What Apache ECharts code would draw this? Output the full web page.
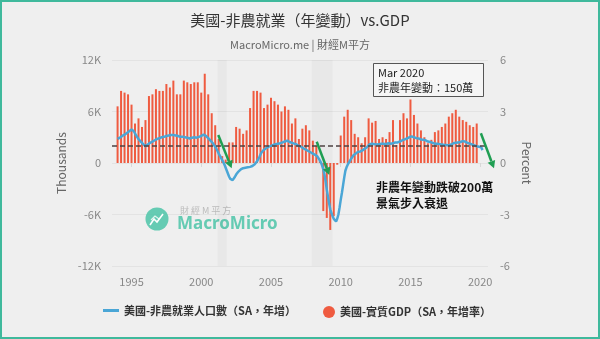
<!DOCTYPE html>
<html>
<head>
<meta charset="utf-8">
<script src="https://cdn.jsdelivr.net/npm/echarts@6/dist/echarts.min.js"></script>
<style>
  html, body { margin: 0; padding: 0; background: #efefef; }
  #chart { width: 600px; height: 339px; }
</style>
</head>
<body>
<div id="chart"></div>
<script>
// ---- text ----
const titleText = '美國-非農就業（年變動）vs.GDP';
const subtitleText = 'MacroMicro.me | 財經M平方';
const lineName = '美國-非農就業人口數（SA，年增）';
const barName = '美國-實質GDP（SA，年增率）';
const leftAxisName = 'Thousands';
const rightAxisName = 'Percent';
const noteTitle = 'Mar 2020';
const noteBody = '非農年變動：150萬';
const calloutLines = ['非農年變動跌破200萬', '景氣步入衰退'];

// ---- data ----
// Nonfarm payrolls, year-over-year change (thousands), monthly from Jan 1994
const payrollStartYear = 1994;
const payrollYoY = [
  2800, 2850, 2950, 3050, 3150, 3250, 3300, 3400, 3500, 3600, 3700, 3800,       // 1994
  3900, 3850, 3700, 3450, 3200, 3000, 2800, 2650, 2500, 2350, 2200, 2050,       // 1995
  1950, 2050, 2150, 2250, 2350, 2450, 2500, 2550, 2650, 2700, 2800, 2850,       // 1996
  2900, 2950, 3000, 3000, 3050, 3100, 3150, 3200, 3200, 3250, 3250, 3300,       // 1997
  3250, 3250, 3200, 3150, 3150, 3100, 3050, 3100, 3050, 3000, 3000, 2950,       // 1998
  2950, 2900, 2850, 2900, 2950, 3000, 3000, 2950, 2950, 3000, 3050, 3100,       // 1999
  3150, 3250, 3300, 3250, 3150, 3050, 2900, 2750, 2600, 2450, 2300, 2150,       // 2000
  1900, 1650, 1400, 1100, 850, 600, 350, 100, -200, -550, -900, -1250,          // 2001
  -1600, -1850, -2050, -2000, -1850, -1600, -1350, -1150, -1000, -850, -750, -650, // 2002
  -600, -550, -550, -500, -500, -450, -450, -400, -350, -300, -150, 0,          // 2003
  200, 400, 700, 1000, 1250, 1450, 1550, 1650, 1750, 1850, 1900, 1950,          // 2004
  2000, 2050, 2100, 2150, 2200, 2250, 2250, 2300, 2300, 2350, 2400, 2450,       // 2005
  2500, 2550, 2600, 2550, 2450, 2400, 2350, 2300, 2250, 2200, 2150, 2100,       // 2006
  2000, 1950, 1900, 1800, 1700, 1650, 1550, 1450, 1400, 1350, 1250, 1200,       // 2007
  1100, 1000, 950, 900, 750, 550, 300, 50, -300, -750, -1350, -2100,            // 2008
  -3100, -3900, -4700, -5400, -5800, -6200, -6500, -6700, -6800, -6500, -6000, -5200, // 2009
  -4300, -3500, -2600, -1700, -900, -500, -200, 50, 250, 500, 700, 900,         // 2010
  1000, 1100, 1200, 1300, 1300, 1350, 1450, 1500, 1650, 1700, 1800, 1900,       // 2011
  2100, 2200, 2250, 2250, 2250, 2200, 2150, 2150, 2150, 2200, 2200, 2250,       // 2012
  2250, 2250, 2200, 2200, 2250, 2300, 2300, 2250, 2300, 2300, 2350, 2400,       // 2013
  2350, 2400, 2450, 2500, 2600, 2650, 2700, 2750, 2800, 2850, 2950, 3000,       // 2014
  3050, 3100, 3050, 3000, 3000, 2900, 2900, 2850, 2800, 2750, 2750, 2700,       // 2015
  2700, 2650, 2600, 2500, 2400, 2450, 2400, 2350, 2300, 2250, 2250, 2250,       // 2016
  2250, 2200, 2150, 2150, 2100, 2100, 2150, 2100, 2000, 2050, 2100, 2150,       // 2017
  2200, 2300, 2350, 2350, 2400, 2400, 2400, 2450, 2500, 2550, 2500, 2500,       // 2018
  2450, 2350, 2300, 2250, 2200, 2150, 2100, 2050, 2000, 1950, 1950, 1900,       // 2019
  1850, 1800, 1500                                                              // 2020
];

// Real GDP, year-over-year growth (%), quarterly from 1994 Q1
const gdpStartYear = 1994;
const gdpYoY = [
  3.3, 4.2, 4.1, 4.0,    // 1994
  3.4, 2.3, 2.6, 2.1,    // 1995
  2.5, 3.9, 4.0, 4.3,    // 1996
  4.2, 4.2, 4.6, 4.4,    // 1997
  4.8, 4.0, 4.0, 4.8,    // 1998
  4.7, 4.6, 4.7, 4.7,    // 1999
  4.1, 5.2, 4.0, 2.9,    // 2000
  2.2, 1.4, 0.4, 0.2,    // 2001
  1.2, 1.2, 2.1, 2.0,    // 2002
  1.7, 1.9, 3.2, 4.2,    // 2003
  4.2, 4.1, 3.2, 3.4,    // 2004
  3.8, 3.6, 3.4, 3.0,    // 2005
  3.3, 3.1, 2.3, 2.6,    // 2006
  1.4, 2.0, 2.2, 1.9,    // 2007
  1.3, 1.0, 0.1, -2.8,   // 2008
  -3.2, -3.9, -3.1, -0.1, // 2009
  1.6, 2.7, 3.1, 2.5,    // 2010
  1.7, 1.5, 1.15, 1.5,   // 2011
  2.6, 2.35, 2.45, 1.4,  // 2012
  1.5, 1.4, 1.8, 2.5,    // 2013
  1.05, 2.5, 2.9, 2.6,   // 2014
  3.7, 2.8, 2.3, 1.9,    // 2015
  1.5, 1.15, 1.35, 1.8,  // 2016
  1.9, 2.1, 2.3, 2.7,    // 2017
  2.9, 3.1, 2.7, 2.5,    // 2018
  2.4, 2.2, 2.1, 2.3     // 2019
];

// US recessions (decimal years): Mar-Nov 2001, Dec 2007-Jun 2009
const recessions = [[2001.17, 2001.83], [2007.92, 2009.42]];
// Payroll threshold (thousands) shown as a dashed reference line
const payrollThreshold = 2000;
const yearTicks = [1995, 2000, 2005, 2010, 2015, 2020];
// Arrow annotations: [from, to] in [year, thousands]
const arrows = [
  [[2001.22, 3260], [2002.18, -620]],
  [[2008.28, 2480], [2009.18, -1400]],
  [[2020.05, 3460], [2020.99, -620]]
];

// ---- build series data ----
const payrollData = payrollYoY.map((v, i) => [payrollStartYear + i / 12, v]);
const gdpData = gdpYoY.map((v, i) => [gdpStartYear + i / 4, v]);

const FONT = "'Noto Sans CJK TC', 'Noto Sans', sans-serif";
const LINE_COLOR = '#4aa6d6';
const BAR_COLOR = '#ef5b40';
const ARROW_COLOR = '#1f9e52';
const TEAL = '#4cc4a8';

const chart = echarts.init(document.getElementById('chart'), null, { renderer: 'canvas' });

const option = {
  backgroundColor: '#efefef',
  animation: false,
  textStyle: { fontFamily: FONT },
  title: [
    { text: titleText, left: 'center', top: 8,
      textStyle: { fontFamily: FONT, fontSize: 15, fontWeight: 'normal', color: '#333' } },
    { text: subtitleText, left: 'center', top: 34,
      textStyle: { fontFamily: FONT, fontSize: 11, fontWeight: 'normal', color: '#666' } }
  ],
  legend: [
    { data: [{ name: lineName, icon: 'rect' }], left: 103, top: 305, padding: 0,
      itemWidth: 16, itemHeight: 3,
      textStyle: { fontFamily: FONT, fontSize: 11, fontWeight: 'bold', color: '#333' } },
    { data: [{ name: barName, icon: 'circle' }], left: 323, top: 306, padding: 0,
      itemWidth: 12, itemHeight: 12,
      textStyle: { fontFamily: FONT, fontSize: 11, fontWeight: 'bold', color: '#333' } }
  ],
  grid: { left: 112, right: 112, top: 60, bottom: 73, containLabel: false },
  xAxis: {
    type: 'value',
    min: 1993.6,
    max: 2020.56,
    axisLine: { show: false },
    axisTick: { show: true, customValues: yearTicks, length: 4, lineStyle: { color: '#d8d8d8' } },
    axisLabel: { customValues: yearTicks, color: '#888', fontSize: 11, margin: 10,
      fontFamily: FONT, formatter: v => String(Math.round(v)) },
    splitLine: { show: false }
  },
  yAxis: [
    {
      type: 'value', min: -12000, max: 12000, interval: 6000,
      name: leftAxisName, nameLocation: 'middle', nameGap: 43, nameRotate: 90,
      nameTextStyle: { color: '#666', fontSize: 12, fontFamily: FONT },
      axisLine: { show: false }, axisTick: { show: false },
      axisLabel: { color: '#888', fontSize: 11, margin: 11, fontFamily: FONT,
        formatter: v => v === 0 ? '0' : (v / 1000) + 'K' },
      splitLine: { lineStyle: { color: '#e3e3e3', width: 1 } }
    },
    {
      type: 'value', min: -6, max: 6, interval: 3, position: 'right',
      name: rightAxisName, nameLocation: 'middle', nameGap: 30, nameRotate: -90,
      nameTextStyle: { color: '#666', fontSize: 12, fontFamily: FONT },
      axisLine: { show: false }, axisTick: { show: false },
      axisLabel: { color: '#888', fontSize: 11, margin: 12, fontFamily: FONT },
      splitLine: { show: false }
    }
  ],
  series: [
    {
      name: barName,
      type: 'bar',
      yAxisIndex: 1,
      data: gdpData,
      barWidth: 2,
      itemStyle: { color: BAR_COLOR },
      z: 2,
      markArea: {
        silent: true,
        itemStyle: { color: 'rgba(0,0,0,0.028)' },
        data: recessions.map(r => [{ xAxis: r[0] }, { xAxis: r[1] }])
      }
    },
    {
      name: lineName,
      type: 'line',
      yAxisIndex: 0,
      data: payrollData,
      showSymbol: false,
      lineStyle: { color: LINE_COLOR, width: 2.5 },
      itemStyle: { color: LINE_COLOR },
      z: 4,
      markLine: {
        silent: true,
        symbol: 'none',
        label: { show: false },
        lineStyle: { color: '#4d4141', type: [5, 3], width: 1.5 },
        data: [{ yAxis: payrollThreshold }]
      }
    }
  ]
};

chart.setOption(option);

// ---- annotations drawn on top ----
function arrowShapes(p0, p1) {
  const dx = p1[0] - p0[0], dy = p1[1] - p0[1];
  const len = Math.hypot(dx, dy);
  const ux = dx / len, uy = dy / len;
  const head = 7.5, half = 4;
  const bx = p1[0] - ux * head, by = p1[1] - uy * head;
  return [
    { type: 'line', z: 100, silent: true,
      shape: { x1: p0[0], y1: p0[1], x2: bx, y2: by },
      style: { stroke: ARROW_COLOR, lineWidth: 2.5 } },
    { type: 'polygon', z: 100, silent: true,
      shape: { points: [[p1[0], p1[1]], [bx - uy * half, by + ux * half], [bx + uy * half, by - ux * half]] },
      style: { fill: ARROW_COLOR } }
  ];
}

const graphics = [];
// frame
graphics.push({ type: 'rect', z: 200, silent: true,
  shape: { x: 1, y: 1, width: 598, height: 337 },
  style: { fill: 'none', stroke: '#3fb99c', lineWidth: 2 } });

// watermark
graphics.push({ type: 'circle', z: 0, silent: true,
  shape: { cx: 157, cy: 219, r: 11.5 }, style: { fill: TEAL, opacity: 0.85 } });
graphics.push({ type: 'polyline', z: 0, silent: true,
  shape: { points: [[150, 225], [154, 219], [157, 222], [163, 214]] },
  style: { stroke: '#ffffff', lineWidth: 1.6, fill: 'none' } });
graphics.push({ type: 'polyline', z: 0, silent: true,
  shape: { points: [[151, 220], [155, 216], [159, 219]] },
  style: { stroke: '#ffffff', lineWidth: 1.2, fill: 'none', opacity: 0.8 } });
graphics.push({ type: 'text', z: 0, silent: true,
  style: { text: '財 經 M 平 方', x: 180, y: 211, fill: '#bbbbbb', fontSize: 9,
    fontFamily: FONT, verticalAlign: 'middle' } });
graphics.push({ type: 'text', z: 0, silent: true,
  style: { text: 'MacroMicro', x: 177, y: 224, fill: TEAL, fontSize: 17, fontWeight: 'bold',
    fontFamily: "'Noto Sans', sans-serif", verticalAlign: 'middle', opacity: 0.85 } });

// note box
graphics.push({ type: 'rect', z: 120, silent: true,
  shape: { x: 373.5, y: 63.5, width: 110, height: 33 },
  style: { fill: '#f5f5f5', stroke: '#555', lineWidth: 1 } });
graphics.push({ type: 'text', z: 121, silent: true,
  style: { text: noteTitle, x: 378, y: 73, fill: '#222', fontSize: 11, fontFamily: FONT, verticalAlign: 'middle' } });
graphics.push({ type: 'text', z: 121, silent: true,
  style: { text: noteBody, x: 378, y: 88, fill: '#222', fontSize: 11, fontFamily: FONT, verticalAlign: 'middle' } });

// callout text
calloutLines.forEach((t, i) => {
  graphics.push({ type: 'text', z: 121, silent: true,
    style: { text: t, x: 376, y: 187 + i * 16, fill: '#111', fontSize: 12, fontWeight: 'bold',
      fontFamily: FONT, verticalAlign: 'middle' } });
});

// arrows anchored in data space
arrows.forEach(a => {
  const p0 = chart.convertToPixel({ xAxisIndex: 0, yAxisIndex: 0 }, a[0]);
  const p1 = chart.convertToPixel({ xAxisIndex: 0, yAxisIndex: 0 }, a[1]);
  arrowShapes(p0, p1).forEach(g => graphics.push(g));
});

chart.setOption({ graphic: graphics });
</script>
</body>
</html>
